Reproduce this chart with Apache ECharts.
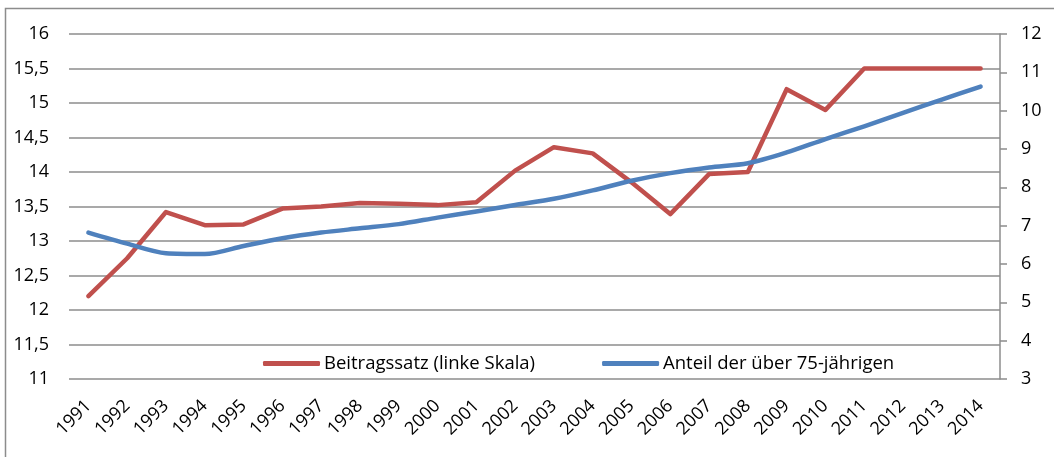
<!doctype html>
<html>
<head>
<meta charset="UTF-8">
<title>Beitragssatz und Anteil der über 75-jährigen</title>
<script src="https://cdn.jsdelivr.net/npm/echarts@6/dist/echarts.min.js"></script>
<style>
  html, body { margin: 0; padding: 0; background: #fff; }
  #main { width: 1054px; height: 457px; }
</style>
</head>
<body>
<div id="main"></div>
<script>
  // Jahre (x-Achse)
  var years = ['1991','1992','1993','1994','1995','1996','1997','1998','1999','2000','2001','2002',
               '2003','2004','2005','2006','2007','2008','2009','2010','2011','2012','2013','2014'];
  // Beitragssatz, linke Skala
  var beitragssatz = [12.2, 12.75, 13.42, 13.23, 13.24, 13.47, 13.5, 13.55, 13.54, 13.52, 13.56, 14.02,
                      14.36, 14.27, 13.85, 13.39, 13.97, 14.0, 15.2, 14.9, 15.5, 15.5, 15.5, 15.5];
  // Anteil der über 75-jährigen, rechte Skala
  var anteil75 = [6.82, 6.53, 6.28, 6.26, 6.47, 6.67, 6.82, 6.93, 7.04, 7.21, 7.37, 7.54,
                  7.7, 7.92, 8.17, 8.37, 8.52, 8.63, 8.91, 9.26, 9.59, 9.94, 10.29, 10.63];
  var seriesNames = ['Beitragssatz (linke Skala)', 'Anteil der über 75-jährigen'];

  var font = '"Open Sans", Lato, sans-serif';
  var myChart = echarts.init(document.getElementById('main'));

  var option = {
    animation: false,
    textStyle: { fontFamily: font },
    graphic: [{
      type: 'rect',
      shape: { x: 5.5, y: 8.5, width: 1060, height: 470 },
      style: { fill: 'none', stroke: '#8c8c8c', lineWidth: 1.5 },
      silent: true
    }],
    grid: { left: 69, right: 54, top: 34, bottom: 78 },
    legend: {
      left: 258,
      top: 349,
      itemWidth: 57,
      itemHeight: 5,
      itemGap: 67,
      icon: 'roundRect',
      textStyle: { fontSize: 18.5, color: '#000', fontFamily: font, padding: [0, 0, 0, -1] },
      data: seriesNames
    },
    xAxis: {
      type: 'category',
      data: years,
      boundaryGap: true,
      axisLine: { show: false },
      axisTick: { show: false },
      axisLabel: { rotate: 45, fontSize: 18, color: '#000', margin: 24, fontFamily: font }
    },
    yAxis: [{
      type: 'value',
      min: 11, max: 16, interval: 0.5,
      position: 'left',
      axisLine: { show: false },
      axisTick: { show: false },
      splitLine: { lineStyle: { color: '#8c8c8c', width: 1.5 } },
      axisLabel: {
        fontSize: 18, color: '#000', margin: 20, fontFamily: font,
        formatter: function (v) { return String(v).replace('.', ','); }
      }
    }, {
      type: 'value',
      min: 3, max: 12, interval: 1,
      position: 'right',
      axisLine: { show: true, lineStyle: { color: '#8c8c8c', width: 1.5 } },
      axisTick: { show: true, length: 7, lineStyle: { color: '#8c8c8c', width: 1.5 } },
      splitLine: { show: false },
      axisLabel: { fontSize: 18, color: '#000', margin: 21, fontFamily: font }
    }],
    series: [{
      name: seriesNames[0],
      type: 'line',
      yAxisIndex: 0,
      data: beitragssatz,
      symbol: 'none',
      color: '#C0504D',
      lineStyle: { width: 4.5, color: '#C0504D', cap: 'round', join: 'round' }
    }, {
      name: seriesNames[1],
      type: 'line',
      yAxisIndex: 1,
      data: anteil75,
      symbol: 'none',
      smooth: 0.3,
      color: '#4F81BD',
      lineStyle: { width: 4.5, color: '#4F81BD', cap: 'round', join: 'round' }
    }]
  };
  myChart.setOption(option);
</script>
</body>
</html>
